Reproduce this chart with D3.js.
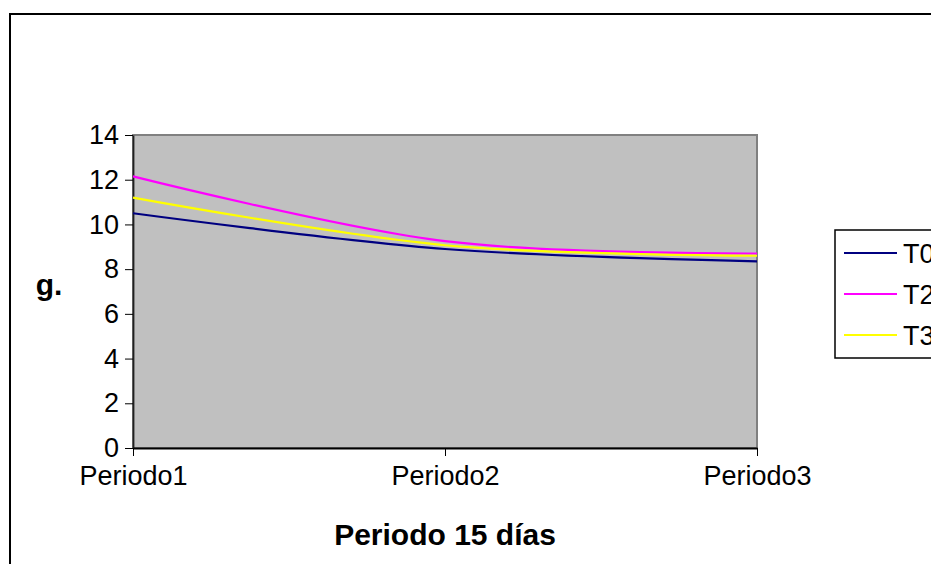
<!DOCTYPE html>
<html>
<head>
<meta charset="utf-8">
<script src="https://cdn.jsdelivr.net/npm/d3@7"></script>
<style>
  html, body { margin: 0; padding: 0; background: #fff; }
  svg { display: block; }
</style>
</head>
<body>
<svg id="chart" width="931" height="564"></svg>
<script>
// Weight (g.) per 15-day period for each treatment
const periods = ["Periodo1", "Periodo2", "Periodo3"];
const seriesNames = ["T0", "T2", "T3"];
const valuesT0 = [10.5, 8.9, 8.35];
const valuesT2 = [12.15, 9.25, 8.7];
const valuesT3 = [11.2, 9.07, 8.6];
const yTicks = [0, 2, 4, 6, 8, 10, 12, 14];
const seriesColors = ["#000080", "#FF00FF", "#FFFF00"];

const series = [
  { name: seriesNames[0], values: valuesT0, color: seriesColors[0] },
  { name: seriesNames[1], values: valuesT2, color: seriesColors[1] },
  { name: seriesNames[2], values: valuesT3, color: seriesColors[2] }
];

const svg = d3.select("#chart");
const font = "'Liberation Sans', Arial, sans-serif";

// Chart frame
svg.append("rect")
  .attr("x", 10).attr("y", 14)
  .attr("width", 940).attr("height", 580)
  .attr("fill", "#fff")
  .attr("stroke", "#000").attr("stroke-width", 2);

const plot = { left: 133, top: 135, right: 757, bottom: 448 };

const x = d3.scalePoint().domain(periods).range([plot.left, plot.right]);
const y = d3.scaleLinear().domain([0, 14]).range([plot.bottom, plot.top]);

// Plot area
svg.append("rect")
  .attr("x", plot.left).attr("y", plot.top)
  .attr("width", plot.right - plot.left).attr("height", plot.bottom - plot.top)
  .attr("fill", "#C0C0C0")
  .attr("stroke", "#808080").attr("stroke-width", 2);

// Y axis
const yAxis = svg.append("g")
  .attr("transform", `translate(${plot.left},0)`)
  .call(d3.axisLeft(y).tickValues(yTicks).tickSize(8).tickPadding(6).tickSizeOuter(0));
yAxis.select(".domain").attr("stroke", "#202020").attr("stroke-width", 1.8);
yAxis.selectAll(".tick line").attr("stroke", "#000");
yAxis.selectAll(".tick text")
  .attr("font-family", font).attr("font-size", 27).attr("fill", "#000");

// X axis
const xAxis = svg.append("g")
  .attr("transform", `translate(0,${plot.bottom})`)
  .call(d3.axisBottom(x).tickSize(8).tickPadding(10).tickSizeOuter(0));
xAxis.select(".domain").attr("stroke", "#000").attr("stroke-width", 1.8);
xAxis.selectAll(".tick line").attr("stroke", "#000");
xAxis.selectAll(".tick text")
  .attr("font-family", font).attr("font-size", 27).attr("fill", "#000");

// Series lines (smoothed)
const line = d3.line()
  .x((d, i) => x(periods[i]))
  .y(d => y(d))
  .curve(d3.curveCatmullRom.alpha(0));

svg.append("g").selectAll("path")
  .data(series)
  .join("path")
  .attr("d", d => line(d.values))
  .attr("fill", "none")
  .attr("stroke", d => d.color)
  .attr("stroke-width", 2.2);

// Axis titles
svg.append("text")
  .attr("x", (plot.left + plot.right) / 2).attr("y", 545)
  .attr("text-anchor", "middle")
  .attr("font-family", font).attr("font-size", 30).attr("font-weight", "bold")
  .text("Periodo 15 días");

svg.append("text")
  .attr("x", 49).attr("y", 295)
  .attr("text-anchor", "middle")
  .attr("font-family", font).attr("font-size", 30).attr("font-weight", "bold")
  .text("g.");

// Legend
const legend = svg.append("g").attr("transform", "translate(835,230)");
legend.append("rect")
  .attr("x", 0).attr("y", 0)
  .attr("width", 140).attr("height", 128)
  .attr("fill", "#fff")
  .attr("stroke", "#000").attr("stroke-width", 1.5);

const items = legend.selectAll("g.item")
  .data(series)
  .join("g")
  .attr("class", "item")
  .attr("transform", (d, i) => `translate(0,${23 + i * 41})`);
items.append("line")
  .attr("x1", 9).attr("x2", 62)
  .attr("stroke", d => d.color).attr("stroke-width", 2);
items.append("text")
  .attr("x", 68).attr("y", 9.5)
  .attr("font-family", font).attr("font-size", 27)
  .text(d => d.name);
</script>
</body>
</html>
